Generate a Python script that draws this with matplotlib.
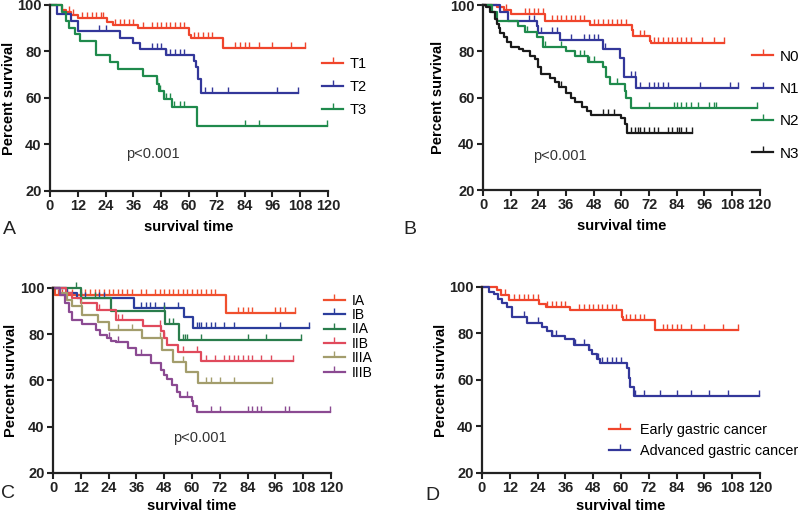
import numpy as np
import matplotlib
matplotlib.use("Agg")
import matplotlib.pyplot as plt
from matplotlib.lines import Line2D

plt.rcParams['font.family'] = ['Liberation Sans', 'DejaVu Sans']

# ---- panel A: T stage ----
t1_time = [5, 7, 9, 12, 24.5, 27, 38, 60, 61, 74.5]
t1_surv = [98, 97, 95.5, 94.5, 92.5, 91.5, 90, 87, 86, 81.5]
t1_cens = [8, 10, 14, 16, 18, 20, 22, 23, 28, 30, 32, 34, 36, 40, 44, 46, 48, 50, 52, 54,
           56, 58, 62, 64, 66, 68, 70, 80, 82, 84, 86, 90, 96, 104, 110]
t2_time = [3, 9, 12, 30, 36, 39, 50, 62, 63, 64, 65]
t2_surv = [96, 93, 89, 86, 83.5, 81, 78.5, 76, 73.5, 68, 62]
t2_cens = [21, 24, 44, 46, 48, 50, 52, 54, 56, 58, 67, 70, 77, 98, 107]
t3_time = [5, 7, 8, 11, 13, 20, 26, 29.5, 40, 46, 47, 49, 52.5, 63.5]
t3_surv = [97, 93, 90, 87.5, 84.5, 78.5, 75.5, 72.5, 69.5, 66, 63, 59.5, 56, 48]
t3_cens = [46, 47.5, 49, 50, 52, 53.5, 56, 58, 84, 90, 119.5]

# ---- panel B: N stage ----
n0_time = [6, 9, 12, 27, 46.5, 64.5, 65, 72.5, 73]
n0_surv = [99, 98, 96, 93, 91.5, 89, 86.5, 84.5, 83.5]
n0_cens = [10, 18, 20, 22, 24, 26, 30, 32, 34, 36, 38, 40, 42, 44, 48, 50, 52, 54, 56, 58,
           60, 62, 68, 70, 74, 76, 78, 80, 82, 84, 86, 88, 90, 95, 100, 104.5]
n1_time = [7.5, 11, 23.5, 24, 33.5, 52, 59.5, 61, 66.5]
n1_surv = [97, 93, 91, 88, 85, 81, 77, 69, 64]
n1_cens = [20, 22, 25, 30, 32, 38, 44, 46, 48, 50, 53, 64, 66, 68, 72, 74, 76, 78, 80, 94,
           107, 110.5]
n2_time = [4, 6, 15, 18, 23.5, 26, 36, 40, 45.5, 52, 53.5, 55, 61.5, 62, 64]
n2_surv = [97, 93, 91, 88.5, 86, 82, 80, 78, 75.5, 73, 69, 66, 63, 60, 55.5]
n2_cens = [19, 27, 34, 42, 44, 46, 48, 58, 72, 83, 84, 86, 88, 90, 93, 98, 100, 101, 119]
n3_time = [1.5, 3, 5, 6, 7, 7.5, 9, 10.5, 12, 15.5, 17.5, 20.5, 22.5, 24, 25, 29, 31, 33,
           36, 38, 40, 43, 45, 47, 60, 61.5, 62.5]
n3_surv = [99, 97, 94, 92, 90, 88, 86, 84, 82, 81, 80, 78, 76.5, 73, 70, 68.5, 66.5, 64.5,
           62, 60, 58, 56, 54, 52.5, 51, 48.5, 44.5]
n3_cens = [34, 52, 54, 57, 64, 66, 67, 68, 70, 72, 74, 76, 80, 82, 84, 85, 86, 88, 90.5]

# ---- panel C: TNM stage ----
ia_time = [1, 74.5]
ia_surv = [97, 89]
ia_cens = [2, 4, 6, 8, 12, 14, 16, 18, 20, 22, 24, 26, 28, 30, 32, 34, 38, 40, 44, 46, 48,
           50, 52, 54, 56, 58, 60, 62, 64, 66, 68, 70, 80, 82, 84, 86, 96, 98, 100, 104.5]
ib_time = [6, 10.5, 35, 56.5, 60.5]
ib_surv = [98, 95.5, 91.5, 87.5, 82.5]
ib_cens = [12, 14, 20, 22, 38, 40, 42, 44, 48, 54, 62, 63, 64, 66, 68, 70, 74, 78, 98, 110.5]
iia_time = [12, 25, 48.5, 54.5]
iia_surv = [95.5, 90, 84.5, 77.5]
iia_cens = [10, 18, 48, 50, 52, 56, 57, 58, 64, 84, 92, 107]
iib_time = [5.5, 8, 12, 19, 27, 39, 46.5, 48, 49, 54, 64]
iib_surv = [98, 95.5, 93.5, 90.5, 86, 83.5, 81.5, 78.5, 75.5, 72.5, 68.5]
iib_cens = [20, 28, 30, 46, 48, 56, 62, 66, 70, 74, 76, 78, 80, 82, 84, 86, 90, 94, 103.5]
iiia_time = [3, 6, 8, 12.5, 19.5, 24, 38.5, 47, 52, 57.5, 62.5]
iiia_surv = [98, 95, 92, 88.5, 85.5, 82, 78.5, 73, 68, 63.5, 59]
iiia_cens = [12, 28, 34, 46, 56, 66, 68, 72, 78, 94.5]
iiib_time = [3, 5, 7, 8, 12.5, 18.5, 20.5, 23.5, 25, 27, 32.5, 36, 42.5, 46.5, 48, 49, 51.5,
             53.5, 55, 60, 60.5, 62]
iiib_surv = [97, 93.5, 89.5, 86, 84.5, 82, 79.5, 78.5, 77, 76.5, 74, 71, 67.5, 64.5, 62.5,
             60.5, 58, 55, 53, 51, 49, 46.5]
iiib_cens = [24, 28, 38, 58, 68, 72, 84, 86, 88, 90, 100, 102, 119.5]

# ---- panel D: early vs advanced ----
early_time = [6.5, 8, 11.5, 24.5, 27.5, 38, 60.5, 61, 74.5]
early_surv = [98.5, 96.5, 94.5, 92.5, 91.5, 90, 87, 86, 81.5]
early_cens = [10, 14, 16, 18, 20, 22, 24, 28, 30, 32, 34, 36, 42, 44, 46, 48, 50, 52, 54,
              56, 58, 62, 64, 66, 68, 70, 78, 80, 82, 84, 86, 90, 96, 104, 110.5]
adv_time = [3, 5, 7, 8.5, 11, 13, 19.5, 26, 28, 30, 36, 39.5, 46, 47.5, 49.5, 51, 62.5,
            63.5, 64, 65.5]
adv_surv = [98, 97, 95, 93, 91.5, 87, 84.5, 83, 81, 79, 77.5, 75, 73, 71, 69, 67.5, 65,
            61, 57, 53]
adv_cens = [18, 24, 30, 32, 40, 44, 46, 50, 52, 54, 56, 58, 60, 66, 70, 77, 84, 90, 98, 106,
            119.5]

RED = '#f0452c'
BLUE = '#33379a'
GREEN = '#1f8a4c'
BLACK = '#1a1a1a'


def km(ax, times, surv, cens, color):
    x = [0] + list(times) + [max(cens)]
    y = [100] + list(surv) + [surv[-1]]
    ax.step(x, y, where='post', color=color, lw=1.6, clip_on=False)
    idx = np.searchsorted(np.array([0] + list(times)), cens, side='right') - 1
    cy = np.array([100] + list(surv))[idx]
    ax.plot(cens, cy, ls='none', marker=2, ms=4, mew=1, color=color, clip_on=False)


def style(ax, ypad, xpad=5):
    for s in ['top', 'right']:
        ax.spines[s].set_visible(False)
    for s in ['left', 'bottom']:
        ax.spines[s].set_linewidth(1.6)
        ax.spines[s].set_color('#222222')
    ax.set_xlim(0, 120)
    ax.set_ylim(20, 100)
    ax.set_xticks(np.arange(0, 121, 12))
    ax.set_yticks([20, 40, 60, 80, 100])
    ax.tick_params(direction='out', length=4, width=1.5, labelsize=10.5, pad=2,
                   colors='#222222')
    for lab in ax.get_xticklabels() + ax.get_yticklabels():
        lab.set_fontweight('bold')
    ax.set_xlabel('survival time', fontsize=10.5, fontweight='bold', labelpad=xpad)
    ax.set_ylabel('Percent survival', fontsize=10.5, fontweight='bold', labelpad=ypad)


def handle(color):
    return Line2D([0], [0], color=color, lw=1.6, marker=2, ms=4, mew=1, markevery=[1])


def letter(x, y, s):
    fig.text(x / 800, 1 - y / 513, s, fontsize=14, va='center', ha='left', color='#222222')


fig = plt.figure(figsize=(8, 5.13), dpi=100)
axA = fig.add_axes([0.0625, 0.6277, 0.3475, 0.3626])
axB = fig.add_axes([0.60375, 0.6296, 0.346, 0.3606])
axC = fig.add_axes([0.06625, 0.078, 0.3475, 0.3606])
axD = fig.add_axes([0.6025, 0.078, 0.3475, 0.3626])

# A
km(axA, t1_time, t1_surv, t1_cens, RED)
km(axA, t2_time, t2_surv, t2_cens, BLUE)
km(axA, t3_time, t3_surv, t3_cens, GREEN)
style(axA, 0.5)
axA.text(33, 36, 'p<0.001', fontsize=10.5, va='center', color='#333333')
axA.legend([handle(RED), handle(BLUE), handle(GREEN)], ['T1', 'T2', 'T3'],
           loc='upper left', bbox_to_anchor=(0.953, 0.758), frameon=False, fontsize=10.5,
           handlelength=1.45, handletextpad=0.45, labelspacing=0.62, borderpad=0)

# B
km(axB, n0_time, n0_surv, n0_cens, RED)
km(axB, n1_time, n1_surv, n1_cens, BLUE)
km(axB, n2_time, n2_surv, n2_cens, GREEN)
km(axB, n3_time, n3_surv, n3_cens, BLACK)
style(axB, 3.5)
axB.text(21.6, 34.6, 'p<0.001', fontsize=10.5, va='center', color='#333333')
axB.legend([handle(RED), handle(BLUE), handle(GREEN), handle(BLACK)], ['N0', 'N1', 'N2', 'N3'],
           loc='upper left', bbox_to_anchor=(0.946, 0.80), frameon=False, fontsize=11,
           handlelength=1.35, handletextpad=0.45, labelspacing=1.2, borderpad=0)

# C
IA_C = '#f0502e'
IB_C = '#2b3d9c'
IIA_C = '#2a7d4c'
IIB_C = '#e04a5c'
IIIA_C = '#a39d6c'
IIIB_C = '#8b4a92'
km(axC, ia_time, ia_surv, ia_cens, IA_C)
km(axC, ib_time, ib_surv, ib_cens, IB_C)
km(axC, iia_time, iia_surv, iia_cens, IIA_C)
km(axC, iib_time, iib_surv, iib_cens, IIB_C)
km(axC, iiia_time, iiia_surv, iiia_cens, IIIA_C)
km(axC, iiib_time, iiib_surv, iiib_cens, IIIB_C)
style(axC, 1.5, xpad=2.5)
axC.text(52, 35, 'p<0.001', fontsize=10.5, va='center', color='#333333')
axC.legend([handle(c) for c in [IA_C, IB_C, IIA_C, IIB_C, IIIA_C, IIIB_C]],
           ['IA', 'IB', 'IIA', 'IIB', 'IIIA', 'IIIB'],
           loc='upper left', bbox_to_anchor=(0.95, 1.007), frameon=False, fontsize=10,
           handlelength=1.5, handletextpad=0.5, labelspacing=0.03, borderpad=0)

# D
km(axD, early_time, early_surv, early_cens, RED)
km(axD, adv_time, adv_surv, adv_cens, BLUE)
style(axD, 0.5, xpad=2.5)
axD.legend([handle(RED), handle(BLUE)], ['Early gastric cancer', 'Advanced gastric cancer'],
           loc='upper left', bbox_to_anchor=(0.432, 0.306), frameon=False, fontsize=10.4,
           handlelength=1.45, handletextpad=0.65, labelspacing=0.45, borderpad=0)

letter(3, 230, 'A')
letter(403, 230, 'B')
letter(1, 494, 'C')
letter(425, 495, 'D')

fig.savefig('out.png', dpi=100)
